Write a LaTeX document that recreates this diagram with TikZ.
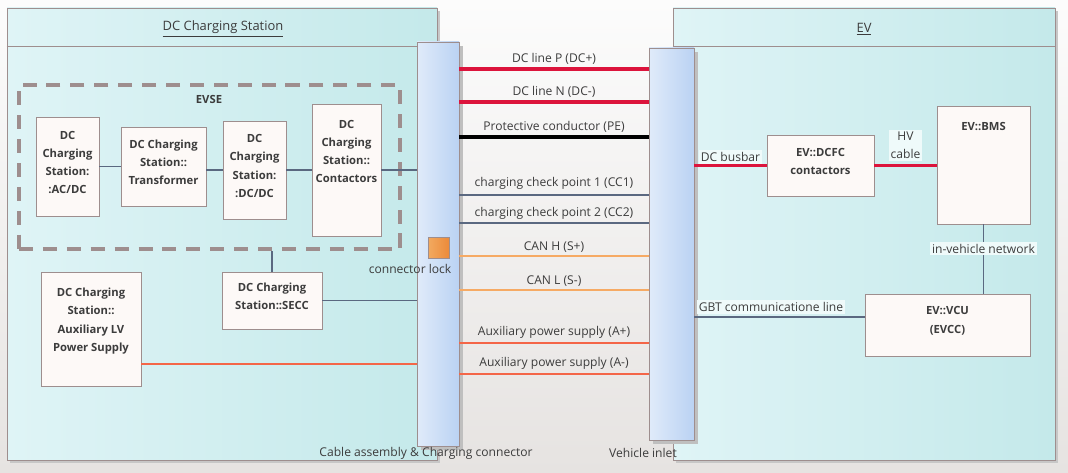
\documentclass[tikz,border=0pt]{standalone}
\usepackage{fontspec}
\setmainfont{Open Sans}
\usetikzlibrary{positioning, fit, shadows}

\definecolor{edgegray}{RGB}{158,142,142}
\definecolor{cyanL}{RGB}{223,244,246}
\definecolor{cyanR}{RGB}{196,233,234}
\definecolor{compfill}{RGB}{253,249,247}
\definecolor{barL}{RGB}{224,235,250}
\definecolor{barR}{RGB}{186,210,243}
\definecolor{dcred}{RGB}{220,20,60}
\definecolor{auxred}{RGB}{244,102,72}
\definecolor{canorange}{RGB}{246,170,100}
\definecolor{sigline}{RGB}{90,104,128}
\definecolor{txt}{RGB}{60,60,60}
\definecolor{lockL}{RGB}{242,170,96}
\definecolor{lockR}{RGB}{236,138,58}
\definecolor{bgtop}{RGB}{252,252,252}
\definecolor{bgbot}{RGB}{230,227,225}

\tikzset{every picture/.style={x=0.025cm, y=-0.025cm},
         every node/.style={text=txt, font=\fontsize{8.6}{13}\selectfont},
         container/.style={draw=edgegray, left color=cyanL, right color=cyanR, inner sep=0pt,
                           drop shadow={shadow xshift=2.2pt, shadow yshift=-2.2pt, fill=black!22, opacity=1}},
         connbar/.style={draw=edgegray, left color=barL, right color=barR, inner sep=0pt,
                         drop shadow={shadow xshift=2.5pt, shadow yshift=-2.5pt, fill=black!25, opacity=1}},
         comp/.style={draw=edgegray, fill=compfill, inner sep=0pt, align=center,
                      font=\fontsize{8}{13}\selectfont\bfseries},
         toptext/.style={anchor=north, yshift=-8pt, align=center, font=\fontsize{8}{13}\selectfont\bfseries},
         evsebox/.style={draw=edgegray, line width=2.8pt, dash pattern=on 10pt off 7pt, inner sep=0pt},
         lockbox/.style={draw=edgegray, left color=lockL, right color=lockR, inner sep=0pt},
         dcwire/.style={draw=dcred, line width=2.6pt},
         pewire/.style={draw=black, line width=2.6pt},
         auxwire/.style={draw=auxred, line width=2.1pt},
         canwire/.style={draw=canorange, line width=0.8pt},
         sigwire/.style={draw=sigline, line width=0.8pt},
         wirelbl/.style={above, inner sep=2pt},
         evlbl/.style={fill=cyanL!50!white, inner sep=1.5pt},
         systitle/.style={font=\fontsize{9.2}{13}\selectfont}
}

\begin{document}
\begin{tikzpicture}
        % page and background
        \useasboundingbox (0,0) rectangle (1068,473);
        \fill [top color=bgtop, bottom color=bgbot] (0,0) rectangle (1068,473);

        % the two systems
        \node [container, fit={(7,8) (437,460)}] (dcs) {};
        \node [container, fit={(673,8) (1055,460)}] (ev) {};
        \coordinate (hdr) at (0,46);
        \draw [edgegray] (dcs.west |- hdr) -- (dcs.east |- hdr);
        \draw [edgegray] (ev.west |- hdr) -- (ev.east |- hdr);
        \node [systitle] (dcstitle) at (223,29) {\underline{DC Charging Station}};
        \node [systitle] (evtitle) at (864,29) {\underline{EV}};

        % EVSE group
        \node [evsebox, fit={(19,85) (400,249)}] (evse) {};
        \node [font=\fontsize{8}{13}\selectfont\bfseries] (evsetitle) at (209,99) {EVSE};
        \node [comp, fit={(36,117) (99,216)}] (acdc) {DC\\Charging\\Station:\\:AC/DC};
        \node [comp, fit={(121,127) (206,206)}] (trans) {DC Charging\\Station::\\Transformer};
        \node [comp, fit={(223,121) (286,219)}] (dcdc) {DC\\Charging\\Station:\\:DC/DC};
        \node [comp, fit={(312,104) (381,236)},
               label={[toptext]north:{DC\\Charging\\Station::\\Contactors}}] (cont) {};

        \node [comp, fit={(222,272) (322,329)}] (secc) {DC Charging\\Station::SECC};
        \node [comp, fit={(41,272) (141,386)},
               label={[toptext]north:{DC Charging\\Station::\\Auxiliary LV\\Power Supply}}] (aux) {};

        % EV parts
        \node [comp, fit={(767,135) (874,196)}] (dcfc) {EV::DCFC\\contactors};
        \node [comp, fit={(937,106) (1030,224)}, label={[toptext]north:EV::BMS}] (bms) {};
        \node [comp, fit={(865,294) (1030,356)}] (vcu) {EV::VCU\\(EVCC)};

        % cable assembly and inlet
        \node [connbar, fit={(417,42) (459,446)}] (cab) {};
        \node [connbar, fit={(649,48) (694,440)}] (inl) {};
        \node [lockbox, fit={(428,237) (449,258)}] (lock) {};
        \node [anchor=north east] (locklbl) at ([xshift=5pt, yshift=-1pt]lock.south east) {connector lock};
        \node (cablbl) at (426,453) {Cable assembly \& Charging connector};
        \node (inllbl) at (643,453) {Vehicle inlet};

        % links inside the station
        \draw [sigwire] (acdc.east) -- (trans.west |- acdc.east);
        \draw [sigwire] (trans.east |- dcdc.west) -- (dcdc.west);
        \draw [sigwire] (dcdc.east) -- (cont.west |- dcdc.east);
        \draw [sigwire] (cont.east) -- (cab.west |- cont.east);
        \draw [sigwire] (secc.north) -- (secc.north |- evse.south);
        \draw [sigwire] (secc.east) -- (cab.west |- secc.east);
        \coordinate (yAUX) at (0,364);
        \draw [auxwire] (aux.east |- yAUX) -- (cab.west |- yAUX);

        % wires between connector and inlet
        \coordinate (yDCP) at (0,69);
        \coordinate (yDCN) at (0,102);
        \coordinate (yPE) at (0,137);
        \coordinate (yCC1) at (0,195);
        \coordinate (yCC2) at (0,223);
        \coordinate (yCANH) at (0,256);
        \coordinate (yCANL) at (0,290);
        \coordinate (yAP) at (0,343);
        \coordinate (yAN) at (0,374);
        \draw [dcwire] (cab.east |- yDCP) -- (inl.west |- yDCP) node [wirelbl, midway] {DC line P (DC+)};
        \draw [dcwire] (cab.east |- yDCN) -- (inl.west |- yDCN) node [wirelbl, midway] {DC line N (DC-)};
        \draw [pewire] (cab.east |- yPE) -- (inl.west |- yPE) node [wirelbl, midway] {Protective conductor (PE)};
        \draw [sigwire] (cab.east |- yCC1) -- (inl.west |- yCC1) node [wirelbl, midway, yshift=1.5pt] {charging check point 1 (CC1)};
        \draw [sigwire] (cab.east |- yCC2) -- (inl.west |- yCC2) node [wirelbl, midway] {charging check point 2 (CC2)};
        \draw [canwire] (cab.east |- yCANH) -- (inl.west |- yCANH) node [wirelbl, midway] {CAN H (S+)};
        \draw [canwire] (cab.east |- yCANL) -- (inl.west |- yCANL) node [wirelbl, midway] {CAN L (S-)};
        \draw [auxwire] (cab.east |- yAP) -- (inl.west |- yAP) node [wirelbl, midway] {Auxiliary power supply (A+)};
        \draw [auxwire] (cab.east |- yAN) -- (inl.west |- yAN) node [wirelbl, midway] {Auxiliary power supply (A-)};

        % links inside the EV
        \draw [dcwire] (inl.east |- dcfc.west) -- (dcfc.west) node [wirelbl, midway, evlbl] {DC busbar};
        \draw [dcwire] (dcfc.east) -- (bms.west |- dcfc.east) node [wirelbl, midway, evlbl, align=center, yshift=2pt] {HV\\cable};
        \draw [sigwire] (bms.south) -- (bms.south |- vcu.north) node [pos=0.35, evlbl] {in-vehicle network};
        \coordinate (yGBT) at (0,317);
        \draw [sigwire] (inl.east |- yGBT) -- (vcu.west |- yGBT) node [wirelbl, pos=0.45, evlbl, yshift=2pt] {GBT communicatione line};
      \end{tikzpicture}
\end{document}
